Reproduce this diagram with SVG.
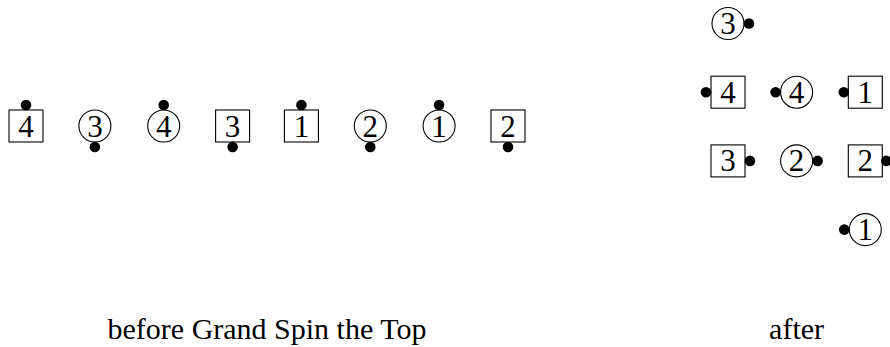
<svg xmlns="http://www.w3.org/2000/svg" width="890" height="347" viewBox="0 0 890 347">
<defs>
<style>
.b{fill:#fff;stroke:#000;stroke-width:1.1}
.c{fill:#fff;stroke:#000;stroke-width:1.1}
.d{fill:#000}
.n{font-family:"Liberation Serif","Times New Roman",serif;font-size:31px;text-anchor:middle;fill:#000}
.cap{font-family:"Liberation Serif","Times New Roman",serif;font-size:30px;text-anchor:middle;fill:#000}
</style>
</defs>
<rect width="890" height="347" fill="#fff"/>
<g id="before">
<g id="b-box4"><rect class="b" x="9" y="110" width="34" height="32"/><text class="n" x="26" y="136.5">4</text><circle class="d" cx="26" cy="105" r="5.3"/></g>
<g id="b-circ3"><circle class="c" cx="94.9" cy="126" r="16"/><text class="n" x="94.9" y="136.5">3</text><circle class="d" cx="94.9" cy="147" r="5.3"/></g>
<g id="b-circ4"><circle class="c" cx="163.7" cy="126" r="16"/><text class="n" x="163.7" y="136.5">4</text><circle class="d" cx="163.7" cy="105" r="5.3"/></g>
<g id="b-box3"><rect class="b" x="215.6" y="110" width="34" height="32"/><text class="n" x="232.6" y="136.5">3</text><circle class="d" cx="232.6" cy="147" r="5.3"/></g>
<g id="b-box1"><rect class="b" x="284.4" y="110" width="34" height="32"/><text class="n" x="301.4" y="136.5">1</text><circle class="d" cx="301.4" cy="105" r="5.3"/></g>
<g id="b-circ2"><circle class="c" cx="370.3" cy="126" r="16"/><text class="n" x="370.3" y="136.5">2</text><circle class="d" cx="370.3" cy="147" r="5.3"/></g>
<g id="b-circ1"><circle class="c" cx="439.1" cy="126" r="16"/><text class="n" x="439.1" y="136.5">1</text><circle class="d" cx="439.1" cy="105" r="5.3"/></g>
<g id="b-box2"><rect class="b" x="491" y="110" width="34" height="32"/><text class="n" x="508" y="136.5">2</text><circle class="d" cx="508" cy="147" r="5.3"/></g>
</g>
<g id="after">
<g id="a-circ3"><circle class="c" cx="728" cy="23.5" r="16"/><text class="n" x="728" y="34">3</text><circle class="d" cx="749" cy="23.5" r="5.3"/></g>
<g id="a-box4"><rect class="b" x="711" y="76.2" width="34" height="32"/><text class="n" x="728" y="102.7">4</text><circle class="d" cx="706" cy="92.2" r="5.3"/></g>
<g id="a-circ4"><circle class="c" cx="796.6" cy="92.2" r="16"/><text class="n" x="796.6" y="102.7">4</text><circle class="d" cx="775.6" cy="92.2" r="5.3"/></g>
<g id="a-box1"><rect class="b" x="848.3" y="76.2" width="34" height="32"/><text class="n" x="865.3" y="102.7">1</text><circle class="d" cx="843.8" cy="92.2" r="5.3"/></g>
<g id="a-box3"><rect class="b" x="711" y="144.9" width="34" height="32"/><text class="n" x="728" y="171.4">3</text><circle class="d" cx="750" cy="160.9" r="5.3"/></g>
<g id="a-circ2"><circle class="c" cx="796.6" cy="160.9" r="16"/><text class="n" x="796.6" y="171.4">2</text><circle class="d" cx="817.6" cy="160.9" r="5.3"/></g>
<g id="a-box2"><rect class="b" x="848.3" y="144.9" width="34" height="32"/><text class="n" x="865.3" y="171.4">2</text><circle class="d" cx="886.3" cy="160.9" r="5.3"/></g>
<g id="a-circ1"><circle class="c" cx="865.3" cy="229.6" r="16"/><text class="n" x="865.3" y="240.1">1</text><circle class="d" cx="844.3" cy="229.6" r="5.3"/></g>
</g>
<g id="connectors"/>
<g id="captions">
<text class="cap" x="267" y="339">before Grand Spin the Top</text>
<text class="cap" x="796.6" y="339">after</text>
</g>
</svg>
